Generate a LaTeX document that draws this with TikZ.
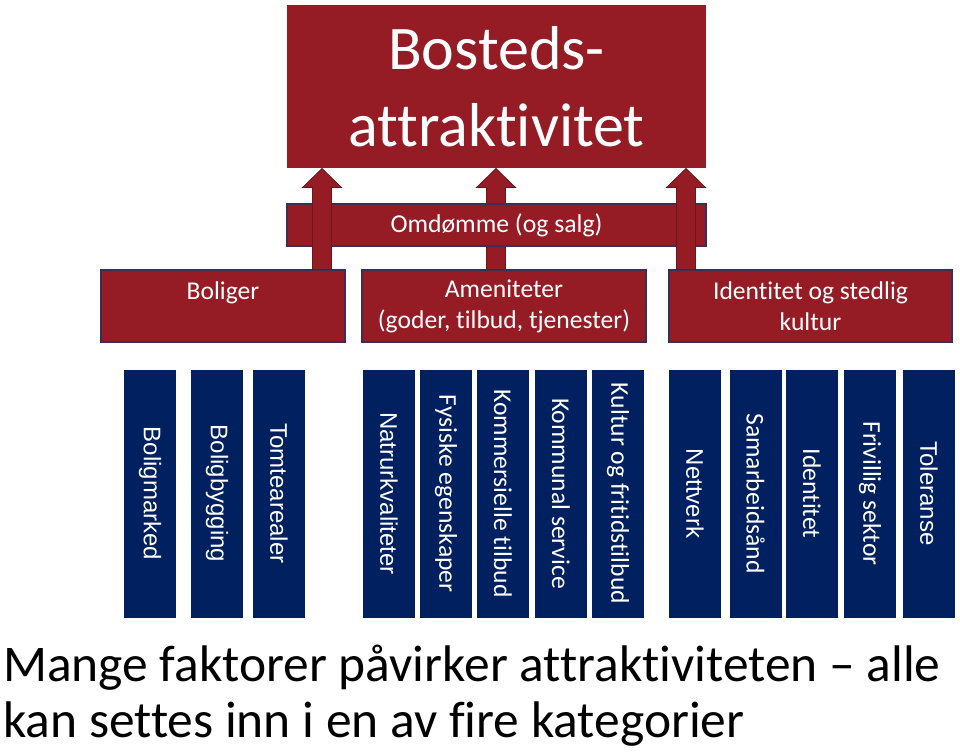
\documentclass[tikz,border=0pt]{standalone}
\usepackage{fontspec}
\setmainfont{Carlito}[Ligatures=NoCommon]
\newfontfamily\arialf{Liberation Sans}
\usetikzlibrary{calc}
\definecolor{bred}{RGB}{149,28,37}
\definecolor{bnavy}{RGB}{0,32,96}
\definecolor{bedge}{RGB}{62,46,84}
\definecolor{aedge}{RGB}{112,20,28}
\begin{document}
\begin{tikzpicture}[x=0.75pt,y=-0.75pt,
  redbox/.style={fill=bred, draw=bedge, line width=0.8pt, text=white, inner sep=0pt},
  catbox/.style={redbox, minimum height=54pt, font=\fontsize{19.2}{23.25}\selectfont, align=center},
  bar/.style={fill=bnavy, draw=none, text=white, rotate=-90, minimum width=186pt, minimum height=39pt, inner sep=0pt},
  cbar/.style={bar, font=\fontsize{19.2}{23}\selectfont},
  abar/.style={bar, font=\arialf\fontsize{18}{22}\selectfont},
  blockarrow/.style={fill=bred, draw=aedge, line width=0.6pt, line join=miter},
  bottomtext/.style={anchor=base west, inner sep=0pt, font=\fontsize{38.6}{42}\selectfont}
]
\useasboundingbox (0,0) rectangle (960,753);
\fill[white] (0,0) rectangle (960,753);

% top box
\node[redbox, draw=none, minimum width=314.25pt, minimum height=122.25pt, align=center,
      font=\fontsize{46.5}{57.75}\selectfont] (title) at (496.5,86.5) {Bosteds-\\attraktivitet};

% category boxes
\node[catbox, minimum width=183pt] (boliger) at (223,306) {Boliger\\\mbox{}};
\node[catbox, minimum width=213pt] (amen) at (504,306) {Ameniteter\\(goder, tilbud, tjenester)};
\node[catbox, minimum width=212.25pt] (ident) at (810.5,306) {Identitet og stedlig\\kultur};

% arrows
\coordinate (c1) at (322,0);
\coordinate (c2) at (496,0);
\coordinate (c3) at (686,0);
\newcommand{\blockarr}[2]{%
  \draw[blockarrow] ($(#2.north -| #1)+(-9.5,0)$) -- ($(title.south -| #1)+(-9.5,19)$)
    -- ($(title.south -| #1)+(-19.5,19)$) -- (title.south -| #1)
    -- ($(title.south -| #1)+(19.5,19)$) -- ($(title.south -| #1)+(9.5,19)$)
    -- ($(#2.north -| #1)+(9.5,0)$) -- cycle;}
\blockarr{c2}{amen}

% reputation bar (over the middle arrow, under the side arrows)
\node[redbox, minimum width=314.25pt, minimum height=31.5pt, font=\fontsize{19.3}{23}\selectfont]
      (omd) at (496.5,225) {Omdømme (og salg)};

\blockarr{c1}{boliger}
\blockarr{c3}{ident}

% factor bars
\node[abar] (b1) at (150,493.5) {Boligmarked};
\node[abar] (b2) at (217,493.5) {Boligbygging};
\node[abar] (b3) at (279,493.5) {Tomtearealer};
\node[abar] (b4) at (389,493.5) {Natrurkvaliteter};
\node[cbar] (b5) at (446,493.5) {Fysiske egenskaper};
\node[cbar] (b6) at (503,493.5) {Kommersielle tilbud};
\node[cbar] (b7) at (561,493.5) {Kommunal service};
\node[cbar] (b8) at (618,493.5) {Kultur og fritidstilbud};
\node[abar] (b9) at (695,493.5) {Nettverk};
\node[cbar] (b10) at (755.5,493.5) {Samarbeidsånd};
\node[cbar] (b11) at (812,493.5) {Identitet};
\node[cbar] (b12) at (870,493.5) {Frivillig sektor};
\node[abar] (b13) at (929,493.5) {Toleranse};

% bottom text
\node[bottomtext] (l1) at (3,681) {Mange faktorer påvirker attraktiviteten – alle};
\node[bottomtext] (l2) at (3,737) {kan settes inn i en av fire kategorier};
\end{tikzpicture}
\end{document}
